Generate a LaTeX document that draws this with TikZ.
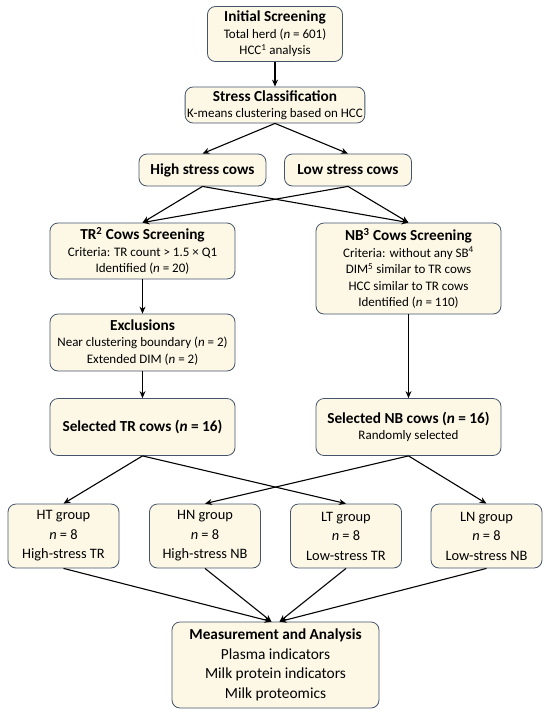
\documentclass[tikz,border=0pt]{standalone}
\usepackage{fontspec}
\setmainfont{Carlito}
\definecolor{boxfill}{RGB}{253,248,230}
\definecolor{boxline}{RGB}{68,84,106}
\usetikzlibrary{arrows.meta,positioning}
\newcommand{\ttl}[1]{{\fontsize{15.3}{18}\selectfont\bfseries #1}}

\begin{document}
\begin{tikzpicture}[x=1pt, y=1pt,
    flowbox/.style={rectangle, rounded corners=8pt, draw=boxline, line width=0.8pt, fill=boxfill,
      align=center, inner sep=2pt, font=\fontsize{13}{16.5}\selectfont},
    grpbox/.style={flowbox, minimum width=111pt, minimum height=64pt, font=\fontsize{14.4}{19.5}\selectfont},
    arr/.style={-{Stealth[length=7pt,width=6pt]}, line width=1.1pt, black}
  ]
    \useasboundingbox (0,0) rectangle (550,-716);
    \node[flowbox, minimum width=135pt, minimum height=55pt] (init) at (275,-34) {%
      \ttl{Initial Screening}\\ Total herd (\textit{n} = 601)\\ HCC\textsuperscript{1} analysis};
    \node[flowbox, minimum width=178pt, minimum height=36pt] (stress) at (275,-105) {%
      \ttl{Stress Classification}\\ K-means clustering based on HCC};
    \node[flowbox, minimum width=127pt, minimum height=32pt] (high) at (202.5,-170) {\ttl{High stress cows}};
    \node[flowbox, minimum width=127pt, minimum height=32pt] (low) at (348,-170) {\ttl{Low stress cows}};
    \node[flowbox, minimum width=185pt, minimum height=56pt] (tr) at (142.5,-251) {%
      \ttl{TR\textsuperscript{2} Cows Screening}\\ Criteria: TR count > 1.5 × Q1\\ Identified (\textit{n} = 20)};
    \node[flowbox, minimum width=185pt, minimum height=91pt] (nb) at (408.5,-268.5) {%
      \ttl{NB\textsuperscript{3} Cows Screening}\\ Criteria: without any SB\textsuperscript{4}\\
      DIM\textsuperscript{5} similar to TR cows\\ HCC similar to TR cows\\ Identified (\textit{n} = 110)};
    \node[flowbox, minimum width=185pt, minimum height=57pt] (excl) at (142.5,-342.5) {%
      \ttl{Exclusions}\\ Near clustering boundary (\textit{n} = 2)\\ Extended DIM (\textit{n} = 2)};
    \node[flowbox, minimum width=185pt, minimum height=57pt] (seltr) at (142.5,-427) {%
      \ttl{Selected TR cows (\textit{n} = 16)}};
    \node[flowbox, minimum width=185pt, minimum height=57pt] (selnb) at (408.5,-427) {%
      \ttl{Selected NB cows (\textit{n} = 16)}\\ Randomly selected};
    \node[grpbox] (ht) at (63.5,-536) {HT group\\ \textit{n} = 8\\ High-stress TR};
    \node[grpbox] (hn) at (205,-536) {HN group\\ \textit{n} = 8\\ High-stress NB};
    \node[grpbox] (lt) at (346,-536) {LT group\\ \textit{n} = 8\\ Low-stress TR};
    \node[grpbox] (ln) at (486.5,-536) {LN group\\ \textit{n} = 8\\ Low-stress NB};
    \node[flowbox, minimum width=207pt, minimum height=86pt, font=\fontsize{15.4}{19.5}\selectfont] (meas) at (275.5,-665) {%
      \ttl{Measurement and Analysis}\\ Plasma indicators\\ Milk protein indicators\\ Milk proteomics};

    \draw[arr] (init) -- (stress);
    \draw[arr] (stress.south) -- (high.north);
    \draw[arr] (stress.south) -- (low.north);
    \draw[arr] (high.south) -- (tr.north);
    \draw[arr] (high.south) -- (nb.north);
    \draw[arr] (low.south) -- (tr.north);
    \draw[arr] (low.south) -- (nb.north);
    \draw[arr] (tr) -- (excl);
    \draw[arr] (excl) -- (seltr);
    \draw[arr] (nb) -- (selnb);
    \draw[arr] (seltr.south) -- (ht.north);
    \draw[arr] (seltr.south) -- (lt.north);
    \draw[arr] (selnb.south) -- (hn.north);
    \draw[arr] (selnb.south) -- (ln.north);
    \draw[arr] (ht.south) -- ([xshift=-4pt]meas.north);
    \draw[arr] (hn.south) -- ([xshift=-4pt]meas.north);
    \draw[arr] (lt.south) -- ([xshift=4pt]meas.north);
    \draw[arr] (ln.south) -- ([xshift=4pt]meas.north);
  \end{tikzpicture}
\end{document}
